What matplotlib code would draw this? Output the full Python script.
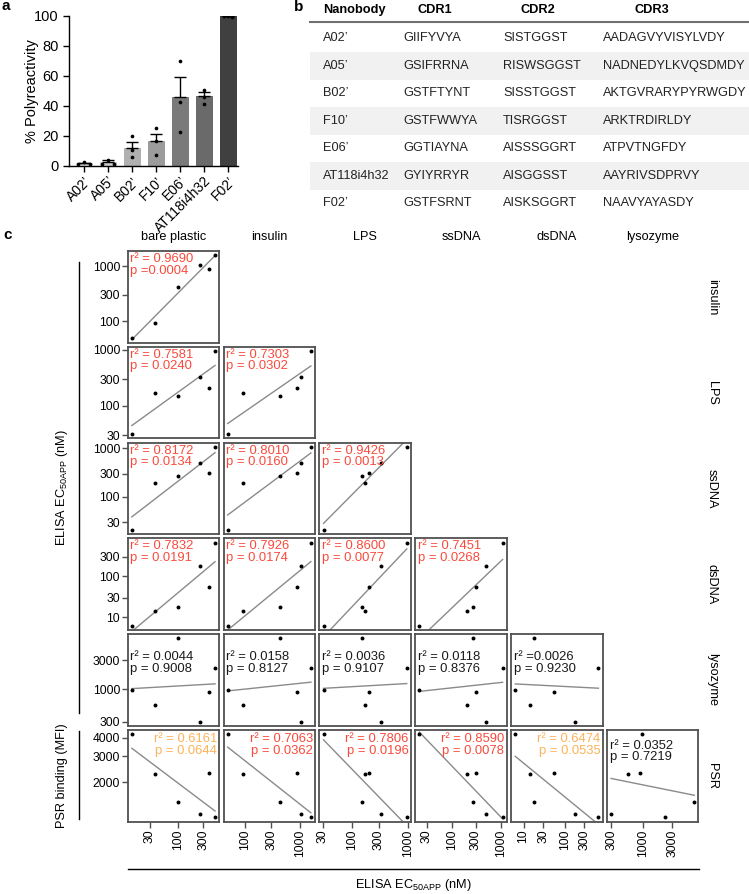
import numpy as np
import matplotlib
matplotlib.use("Agg")
import matplotlib.pyplot as plt
from matplotlib.lines import Line2D
from matplotlib.patches import Rectangle
from matplotlib.ticker import FixedLocator, NullLocator, FixedFormatter

plt.rcParams['font.family'] = ['Liberation Sans', 'DejaVu Sans']
plt.rcParams['mathtext.fontset'] = 'custom'
plt.rcParams['mathtext.rm'] = 'Liberation Sans'

# ---- panel a data
nanobodies = ["A02’", "A05’", "B02’", "F10’", "E06’", "AT118i4h32", "F02’"]
poly_mean = [1.5, 2.7, 11.8, 16.7, 45.6, 46.4, 99.8]
poly_sem = [0.4, 0.9, 4.3, 4.6, 13.3, 2.5, 0.3]
poly_reps = [[0.9, 2.2, 1.0], [1.1, 3.8, 1.3], [20.0, 10.2, 5.6], [24.9, 16.4, 6.9],
             [69.8, 42.2, 22.7], [50.4, 46.0, 40.9], [100.0, 100.0, 99.2]]
bar_colors = ['#dcdcdc', '#cccccc', '#b0b0b0', '#9c9c9c', '#7a7a7a', '#6a6a6a', '#404040']

# ---- panel b data
cdr1 = ['GIIFYVYA', 'GSIFRRNA', 'GSTFTYNT', 'GSTFWWYA', 'GGTIAYNA', 'GYIYRRYR', 'GSTFSRNT']
cdr2 = ['SISTGGST', 'RISWSGGST', 'SISSTGGST', 'TISRGGST', 'AISSSGGRT', 'AISGGSST', 'AISKSGGRT']
cdr3 = ['AADAGVYVISYLVDY', 'NADNEDYLKVQSDMDY', 'AKTGVRARYPYRWGDY', 'ARKTRDIRLDY',
        'ATPVTNGFDY', 'AAYRIVSDPRVY', 'NAAVYAYASDY']

# ---- panel c data (EC50 in nM, PSR in MFI), same 6 nanobodies in each list
bare_plastic = [13.9, 38.1, 101, 262, 381, 501]
insulin = [49, 94.5, 426, 1043, 868, 1576]
lps = [31.2, 173, 153, 330, 207, 960]
ssdna = [21, 198, 272, 490, 313, 1079]
dsdna = [6.3, 14.3, 18.2, 175, 55, 655]
lysozyme = [973, 568, 6810, 300, 893, 2276]
psr = [4220, 2276, 1479, 1227, 2300, 1160]

col_names = ['bare plastic', 'insulin', 'LPS', 'ssDNA', 'dsDNA', 'lysozyme']
row_names = ['insulin', 'LPS', 'ssDNA', 'dsDNA', 'lysozyme', 'PSR']
values = {'bare plastic': bare_plastic, 'insulin': insulin, 'LPS': lps, 'ssDNA': ssdna,
          'dsDNA': dsdna, 'lysozyme': lysozyme, 'PSR': psr}
ticks = {'bare plastic': [30, 100, 300], 'insulin': [100, 300, 1000],
         'LPS': [30, 100, 300, 1000], 'ssDNA': [30, 100, 300, 1000],
         'dsDNA': [10, 30, 100, 300], 'lysozyme': [300, 1000, 3000],
         'PSR': [2000, 3000, 4000]}

# r2 / p strings as printed, per row
r2_text = [
    ['r² = 0.9690'],
    ['r² = 0.7581', 'r² = 0.7303'],
    ['r² = 0.8172', 'r² = 0.8010', 'r² = 0.9426'],
    ['r² = 0.7832', 'r² = 0.7926', 'r² = 0.8600', 'r² = 0.7451'],
    ['r² = 0.0044', 'r² = 0.0158', 'r² = 0.0036', 'r² = 0.0118', 'r² =0.0026'],
    ['r² = 0.6161', 'r² = 0.7063', 'r² = 0.7806', 'r² = 0.8590', 'r² = 0.6474', 'r² = 0.0352'],
]
p_text = [
    ['p =0.0004'],
    ['p = 0.0240', 'p = 0.0302'],
    ['p = 0.0134', 'p = 0.0160', 'p = 0.0013'],
    ['p = 0.0191', 'p = 0.0174', 'p = 0.0077', 'p = 0.0268'],
    ['p = 0.9008', 'p = 0.8127', 'p = 0.9107', 'p = 0.8376', 'p = 0.9230'],
    ['p = 0.0644', 'p = 0.0362', 'p = 0.0196', 'p = 0.0078', 'p = 0.0535', 'p = 0.7219'],
]

W, H = 749, 894
fig = plt.figure(figsize=(W / 100, H / 100), dpi=100)


def box(x0, y0, w, h):
    return fig.add_axes([x0 / W, 1 - (y0 + h) / H, w / W, h / H])


def ftext(x, y, s, **kw):
    fig.text(x / W, 1 - y / H, s, **kw)


def fline(xs, ys, **kw):
    fig.add_artist(Line2D([x / W for x in xs], [1 - y / H for y in ys], transform=fig.transFigure, **kw))


# panel labels
ftext(2, 6, 'a', fontsize=11, fontweight='bold', va='center')
ftext(294, 7, 'b', fontsize=11, fontweight='bold', va='center')
ftext(3, 235, 'c', fontsize=11, fontweight='bold', va='center')

# ---------------- panel a
ax = box(69.3, 15.7, 169, 150)
xpos = np.arange(len(nanobodies))
ax.bar(xpos, poly_mean, width=0.72, color=bar_colors, zorder=1)
ax.errorbar(xpos, poly_mean, yerr=[np.zeros(len(xpos)), poly_sem], fmt='none',
            ecolor='black', elinewidth=1, capsize=4, capthick=1, zorder=2)
spread = [0.25, 0.25, 0, 0, 0, 0, 0.17]
for i, reps in enumerate(poly_reps):
    offs = np.array([-1, 0, 1]) * spread[i]
    ax.scatter(xpos[i] + offs, reps, s=7, color='black', zorder=3, linewidths=0)
ax.set_xlim(-0.62, 6.42)
ax.set_ylim(0, 100)
ax.set_yticks([0, 20, 40, 60, 80, 100])
ax.set_xticks(xpos)
ax.set_xticklabels(nanobodies, rotation=45, ha='right', rotation_mode='anchor', fontsize=10)
ax.tick_params(axis='y', labelsize=10.5, length=4, width=1)
ax.tick_params(axis='x', length=4, width=1, pad=2)
ax.set_ylabel('% Polyreactivity', fontsize=10.5, va='center')
ax.yaxis.set_label_coords(-0.22, 0.5)
for s in ['top', 'right']:
    ax.spines[s].set_visible(False)
for s in ['left', 'bottom']:
    ax.spines[s].set_linewidth(1)

# ---------------- panel b
col_x = [323, 403, 503, 603]
head_x = [323, 435, 538, 652]
row_y0 = 38.3
row_dy = 27.5
for i in range(len(nanobodies)):
    if i % 2 == 1:
        yc = row_y0 + i * row_dy
        fig.add_artist(Rectangle((310 / W, 1 - (yc + 14) / H), (W - 310) / W, 28 / H,
                                 transform=fig.transFigure, color='#f1f1f1', zorder=0, lw=0))
ftext(head_x[0], 10, 'Nanobody', fontsize=9.2, fontweight='bold', va='center', ha='left')
for hx, t in zip(head_x[1:], ['CDR1', 'CDR2', 'CDR3']):
    ftext(hx, 10, t, fontsize=9.2, fontweight='bold', va='center', ha='center')
fline([310, W], [22, 22], color='#707070', lw=1.5)
for i in range(len(nanobodies)):
    yc = row_y0 + i * row_dy
    for cx, t in zip(col_x, [nanobodies[i], cdr1[i], cdr2[i], cdr3[i]]):
        ftext(cx, yc, t, fontsize=9.2, va='center', ha='left', color='#222222')

# ---------------- panel c
cx0, cdx = 127.7, 95.85
ry0, rdy = 251.0, 95.8
pw = 91.5
red, orange = '#fa4a3c', '#fdb35a'

for i, rname in enumerate(row_names):
    for j in range(i + 1):
        cname = col_names[j]
        xv = np.array(values[cname], dtype=float)
        yv = np.array(values[rname], dtype=float)
        ax = box(cx0 + j * cdx, ry0 + i * rdy, pw, pw)
        ax.set_xscale('log')
        ax.set_yscale('log')
        ax.scatter(xv, yv, s=8, color='black', linewidths=0, zorder=3)
        ax.margins(0.05)
        xlim = ax.get_xlim()
        ylim = ax.get_ylim()
        k, b = np.polyfit(np.log10(xv), np.log10(yv), 1)
        xl = np.array([xv.min(), xv.max()])
        ax.plot(xl, 10 ** (k * np.log10(xl) + b), color='#8a8a8a', lw=1, zorder=2)
        ax.set_xlim(xlim)
        ax.set_ylim(ylim)
        for s in ax.spines.values():
            s.set_color('#505050')
            s.set_linewidth(1.3)
        ax.xaxis.set_minor_locator(NullLocator())
        ax.yaxis.set_minor_locator(NullLocator())
        if j == 0:
            ax.yaxis.set_major_locator(FixedLocator(ticks[rname]))
            ax.yaxis.set_major_formatter(FixedFormatter([str(t) for t in ticks[rname]]))
            ax.tick_params(axis='y', labelsize=8.7, length=4, width=1, color='#505050', pad=1.5)
        else:
            ax.set_yticks([])
        if i == len(row_names) - 1:
            ax.xaxis.set_major_locator(FixedLocator(ticks[cname]))
            ax.xaxis.set_major_formatter(FixedFormatter([str(t) for t in ticks[cname]]))
            ax.tick_params(axis='x', labelsize=8.7, length=4, width=1, color='#505050',
                           labelrotation=90, pad=1.5)
        else:
            ax.set_xticks([])

        pval = float(p_text[i][j].split('=')[1])
        col = red if pval < 0.05 else (orange if pval < 0.1 else '#1a1a1a')
        if i < 4:
            tx, ha, ty1, ty2 = 0.03, 'left', 0.913, 0.785
        elif i == 4:
            tx, ha, ty1, ty2 = 0.03, 'left', 0.752, 0.625
        elif j < 5:
            tx, ha, ty1, ty2 = 0.975, 'right', 0.90, 0.774
        else:
            tx, ha, ty1, ty2 = 0.03, 'left', 0.828, 0.70
        ax.text(tx, ty1, r2_text[i][j], transform=ax.transAxes, ha=ha, va='center',
                fontsize=9.4, color=col)
        ax.text(tx, ty2, p_text[i][j], transform=ax.transAxes, ha=ha, va='center',
                fontsize=9.4, color=col)

for j, cname in enumerate(col_names):
    ftext(cx0 + j * cdx + pw / 2, 236.7, cname, fontsize=9.2, ha='center', va='center')
for i, rname in enumerate(row_names):
    ftext(711.7, ry0 + i * rdy + pw / 2, rname, fontsize=9.2, ha='center', va='center', rotation=270)

fline([79.3, 79.3], [262, 713], color='black', lw=1)
fline([79.3, 79.3], [731, 819], color='black', lw=1)
fline([127.7, 699], [869.3, 869.3], color='black', lw=1)
ftext(62, 487.5, r'ELISA EC$_{\mathrm{50APP}}$ (nM)', fontsize=9.2, ha='center', va='center', rotation=90)
ftext(62, 776, 'PSR binding (MFI)', fontsize=9.2, ha='center', va='center', rotation=90)
ftext(413, 885, r'ELISA EC$_{\mathrm{50APP}}$ (nM)', fontsize=9.2, ha='center', va='center')

fig.savefig('out.png', dpi=100)
